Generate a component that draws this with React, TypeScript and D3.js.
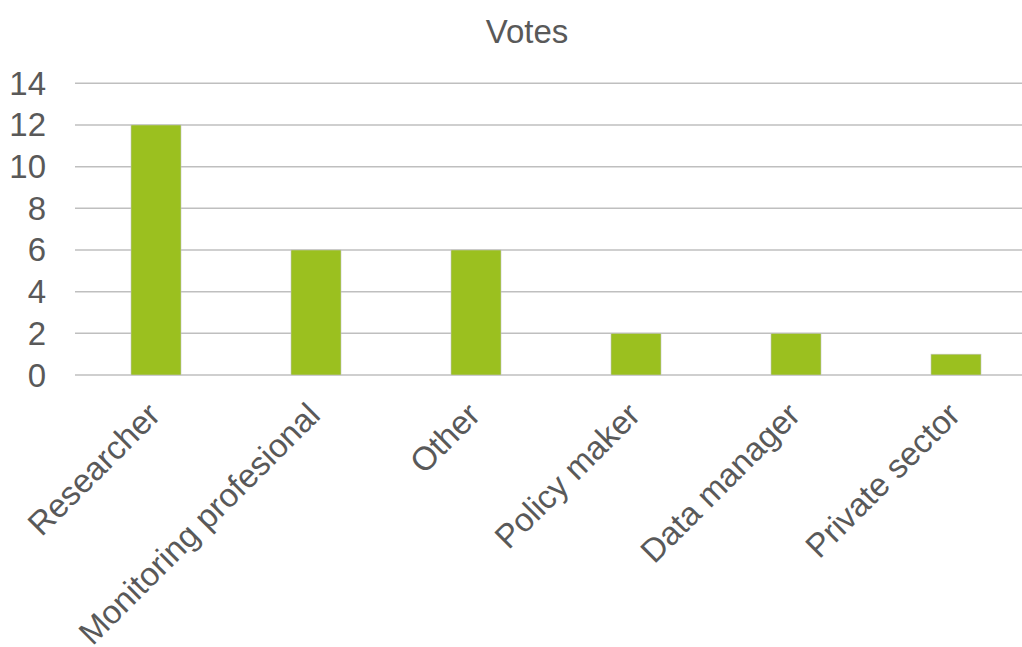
import React from "react";
import * as d3 from "d3";

const categories = ["Researcher", "Monitoring profesional", "Other", "Policy maker", "Data manager", "Private sector"];
const votes = [12, 6, 6, 2, 2, 1];
const yTicks = [0, 2, 4, 6, 8, 10, 12, 14];
const title = "Votes";

export default function App() {
  const W = 1022, H = 647;
  const x = d3.scaleBand<string>().domain(categories).range([76, 1036]).paddingInner(0.6875).paddingOuter(0.34375);
  const y = d3.scaleLinear().domain([0, 14]).range([375, 83.3]);
  const font = "Arial, 'Liberation Sans', sans-serif";
  const txt = "#595959";
  const fs = 33;
  return (
    <svg width={W} height={H} style={{ position: "absolute", left: 0, top: 0, background: "#fff" }} fontFamily={font}>
      <rect x={0} y={0} width={W} height={H} fill="#fff" />
      <text x={527} y={31} textAnchor="middle" dominantBaseline="central" fontSize={fs} fill={txt}>{title}</text>
      {yTicks.map((t) => (
        <g key={t}>
          <line x1={75} x2={W} y1={y(t)} y2={y(t)} stroke="#bfbfbf" strokeWidth={1.5} />
          <text x={46} y={y(t)} textAnchor="end" dominantBaseline="central" fontSize={fs} fill={txt}>{t}</text>
        </g>
      ))}
      {categories.map((c, i) => (
        <rect key={c} x={x(c)} y={y(votes[i])} width={x.bandwidth()} height={y(0) - y(votes[i])} fill="#9bc01f" stroke="#c4c4c4" strokeWidth={0.6} />
      ))}
      {categories.map((c) => {
        const cx = (x(c) as number) + x.bandwidth() / 2;
        return (
          <text key={c} transform={`translate(${cx + 6},${417}) rotate(-45)`} textAnchor="end" fontSize={fs} fill={txt}>{c}</text>
        );
      })}
    </svg>
  );
}
